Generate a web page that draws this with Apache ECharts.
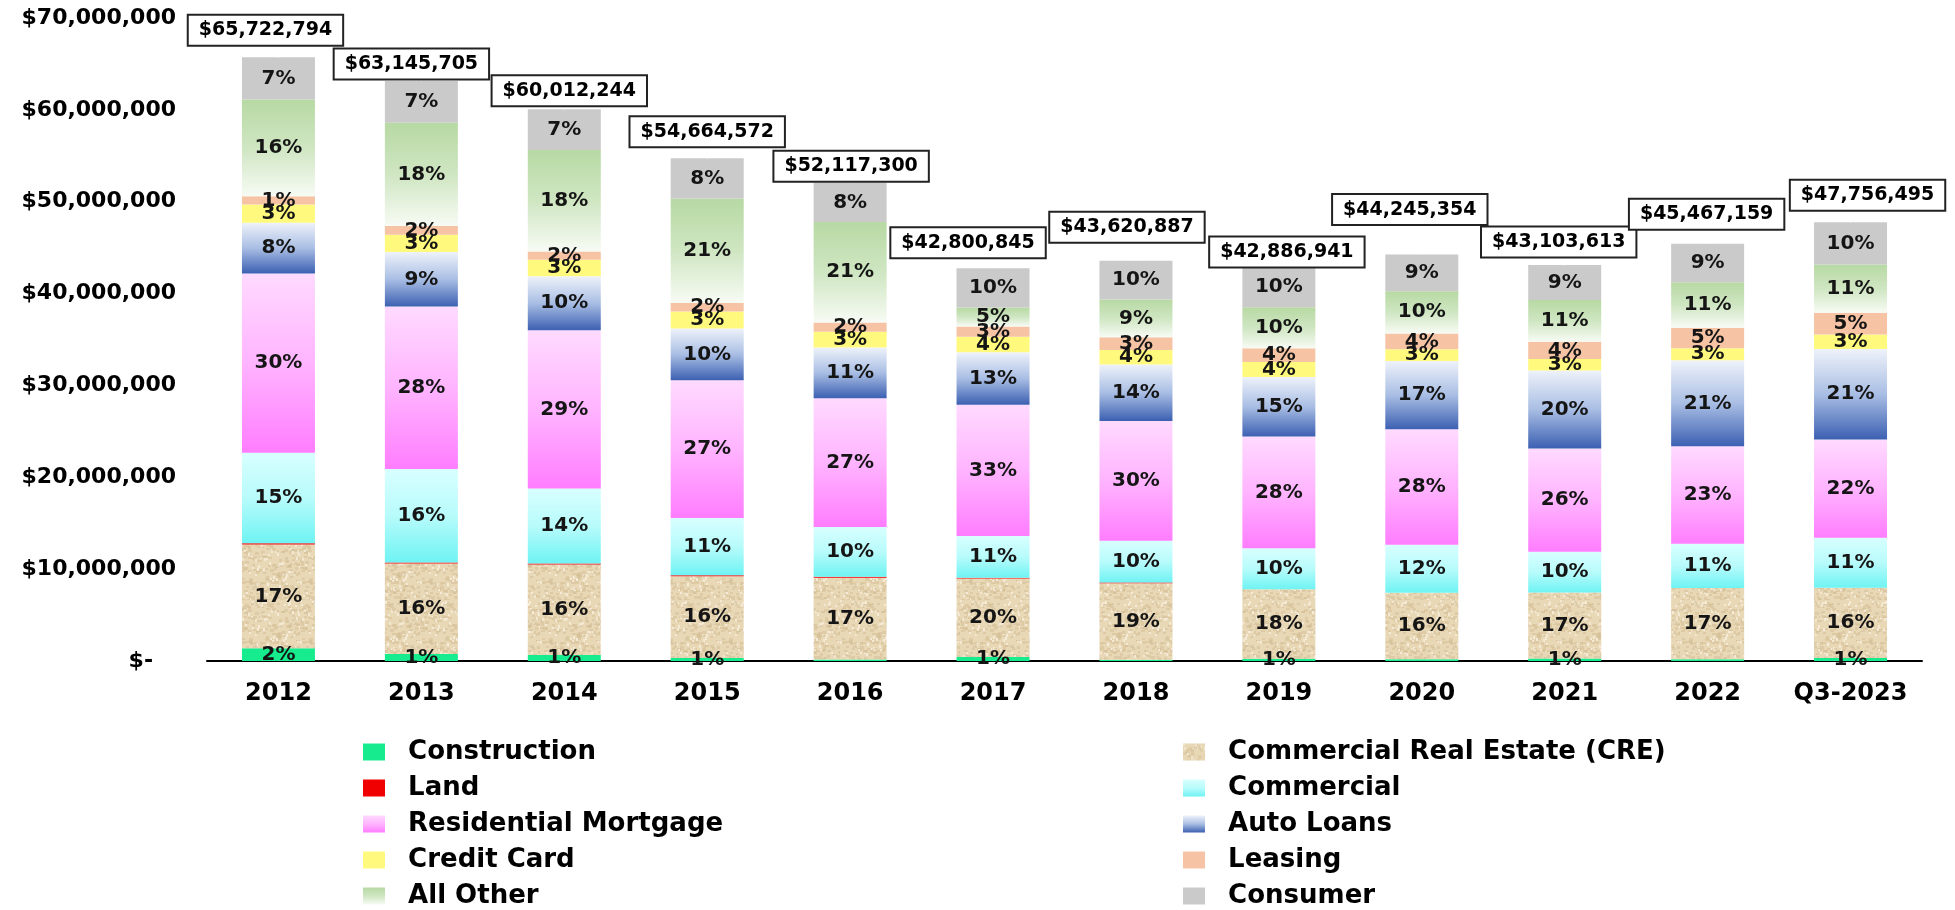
<!DOCTYPE html>
<html>
<head>
<meta charset="utf-8">
<script src="https://cdn.jsdelivr.net/npm/echarts@6/dist/echarts.min.js"></script>
<style>
  html, body { margin: 0; padding: 0; background: #fff; }
  #loanMix { width: 1955px; height: 910px; }
</style>
</head>
<body>
<div id="loanMix"></div>
<script>
// categories and yearly portfolio totals ($)
const categories = ["2012", "2013", "2014", "2015", "2016", "2017", "2018", "2019", "2020", "2021", "2022", "Q3-2023"];
const totals = [65722794, 63145705, 60012244, 54664572, 52117300, 42800845, 43620887, 42886941, 44245354, 43103613, 45467159, 47756495];

// share of each loan type in the total (%), bottom of the stack first
const construction = [2.1, 1.2, 1.1, 0.6, 0.3, 1.0, 0.3, 0.6, 0.4, 0.6, 0.4, 0.7];
const cre = [17.2, 15.6, 16.4, 16.3, 17.1, 20.0, 19.1, 17.6, 16.4, 16.7, 17.1, 16.0];
const land = [0.2, 0.2, 0.2, 0.2, 0.2, 0.2, 0.2, 0, 0, 0, 0, 0];
const commercial = [15.0, 16.1, 13.6, 11.4, 10.4, 10.6, 10.4, 10.4, 11.8, 10.3, 10.6, 11.4];
const residential = [29.7, 28.0, 28.7, 27.4, 26.9, 33.4, 29.9, 28.4, 28.4, 26.1, 23.3, 22.4];
const autoLoans = [8.4, 9.4, 9.8, 10.3, 10.6, 13.3, 14.1, 15.1, 16.8, 19.7, 20.6, 20.6];
const creditCard = [3.0, 3.0, 3.0, 3.4, 3.3, 4.0, 3.6, 3.8, 2.9, 2.9, 2.9, 3.3];
const leasing = [1.4, 1.5, 1.5, 1.7, 1.9, 2.6, 3.2, 3.5, 3.9, 4.3, 4.9, 5.0];
const allOther = [16.0, 17.8, 18.4, 20.8, 21.0, 4.8, 9.4, 10.4, 10.4, 10.6, 10.9, 11.0];
const consumer = [7.0, 7.2, 7.4, 8.0, 8.2, 10.0, 9.7, 10.3, 9.0, 8.8, 9.2, 9.6];

// y axis ticks
const yTicks = [0, 10000000, 20000000, 30000000, 40000000, 50000000, 60000000, 70000000];

// where each total box sits relative to the top of its bar [dx, dy]
const boxOffsets = [[-13, -12], [-10, -2], [5, -4], [0, -12], [1, -1], [-25, -10], [-9, -18], [8, 0], [-12, -30], [-6, -8], [-1, -14], [17, -12]];

const FONT = "DejaVu Sans";

function grad(stops) {
  return new echarts.graphic.LinearGradient(0, 0, 0, 1, stops.map((c, i) => ({ offset: i / (stops.length - 1), color: c })));
}

// sandy texture for CRE
function sandPattern() {
  let c = document.createElement("canvas");
  c.width = 60;
  c.height = 60;
  let ctx = c.getContext("2d");
  ctx.fillStyle = "#E9D8B5";
  ctx.fillRect(0, 0, 60, 60);
  for (let i = 0; i < 260; i++) {
    let x = (i * 37 + (i % 7) * 11) % 60;
    let y = (i * 23 + ((i * i) % 31)) % 60;
    ctx.fillStyle = i % 3 === 0 ? "rgba(246,238,220,0.8)" : "rgba(205,185,145,0.4)";
    ctx.fillRect(x, y, 2 + (i % 3), 2 + (i % 2));
  }
  return { image: c, repeat: "repeat" };
}

const groups = [
  { name: "Construction", pct: construction, color: "#16EC8E" },
  { name: "Commercial Real Estate (CRE)", pct: cre, color: sandPattern() },
  { name: "Land", pct: land, color: "#F00000", noLabel: true },
  { name: "Commercial", pct: commercial, color: grad(["#D8FFFF", "#B8FBFB", "#6FF3F3"]) },
  { name: "Residential Mortgage", pct: residential, color: grad(["#FFDAFF", "#FFB4FF", "#FF7DFF"]) },
  { name: "Auto Loans", pct: autoLoans, color: grad(["#EEF2FA", "#A9BEE4", "#3C60B2"]) },
  { name: "Credit Card", pct: creditCard, color: "#FFFA7E" },
  { name: "Leasing", pct: leasing, color: "#F6C4A5" },
  { name: "All Other", pct: allOther, color: grad(["#B7D9A3", "#CFE6C2", "#F7FBF4"]) },
  { name: "Consumer", pct: consumer, color: "#CACACA" },
];

let series = groups.map((g) => ({
  name: g.name,
  type: "bar",
  stack: "loans",
  barWidth: 73,
  itemStyle: { color: g.color },
  label: {
    show: !g.noLabel,
    position: "inside",
    fontFamily: FONT,
    fontWeight: "bold",
    fontSize: 20,
    color: "#151515",
    formatter: (p) => {
      let r = Math.round(g.pct[p.dataIndex]);
      return r > 0 ? r + "%" : "";
    },
  },
  emphasis: { disabled: true },
  data: g.pct.map((v, i) => (totals[i] * v) / 100),
}));

series.push({
  name: "Total",
  type: "scatter",
  symbolSize: 1,
  itemStyle: { color: "#fff" },
  z: 10,
  emphasis: { disabled: true },
  data: totals.map((v, i) => ({
    value: v,
    label: { offset: boxOffsets[i] },
  })),
  label: {
    show: true,
    position: "top",
    distance: 0,
    opacity: 1,
    fontFamily: FONT,
    fontWeight: "bold",
    fontSize: 19,
    lineHeight: 21,
    color: "#000",
    backgroundColor: "#fff",
    borderColor: "#222",
    borderWidth: 2,
    padding: [4, 10, 4, 10],
    formatter: (p) => "$" + p.value.toLocaleString("en-US"),
  },
});

const legendText = {
  fontFamily: FONT,
  fontWeight: "bold",
  fontSize: 26,
  color: "#000",
};

function legendCol(left, names) {
  return {
    orient: "vertical",
    left: left,
    top: 739,
    padding: 0,
    icon: "rect",
    itemWidth: 22,
    itemHeight: 17,
    itemGap: 10,
    textStyle: legendText,
    formatter: (n) => "  " + n,
    data: names,
  };
}

let option = {
  animation: false,
  backgroundColor: "#fff",
  grid: { left: 207, right: 33, top: 18, bottom: 249 },
  legend: [
    legendCol(363, ["Construction", "Land", "Residential Mortgage", "Credit Card", "All Other"]),
    legendCol(1183, ["Commercial Real Estate (CRE)", "Commercial", "Auto Loans", "Leasing", "Consumer"]),
  ],
  xAxis: {
    type: "category",
    data: categories,
    axisLine: { lineStyle: { color: "#000", width: 2 } },
    axisTick: { show: false },
    axisLabel: {
      interval: 0,
      margin: 21,
      fontFamily: FONT,
      fontWeight: "bold",
      fontSize: 24,
      color: "#000",
    },
  },
  yAxis: {
    type: "value",
    min: yTicks[0],
    max: yTicks[yTicks.length - 1],
    interval: yTicks[1] - yTicks[0],
    axisLine: { show: false },
    axisTick: { show: false },
    splitLine: { show: false },
    axisLabel: {
      margin: 31,
      fontFamily: FONT,
      fontWeight: "bold",
      fontSize: 22,
      color: "#000",
      formatter: (v) => (v === 0 ? "$-   " : "$" + v.toLocaleString("en-US")),
    },
  },
  series: series,
};

let myChart = echarts.init(document.getElementById("loanMix"));
myChart.setOption(option);
</script>
</body>
</html>
